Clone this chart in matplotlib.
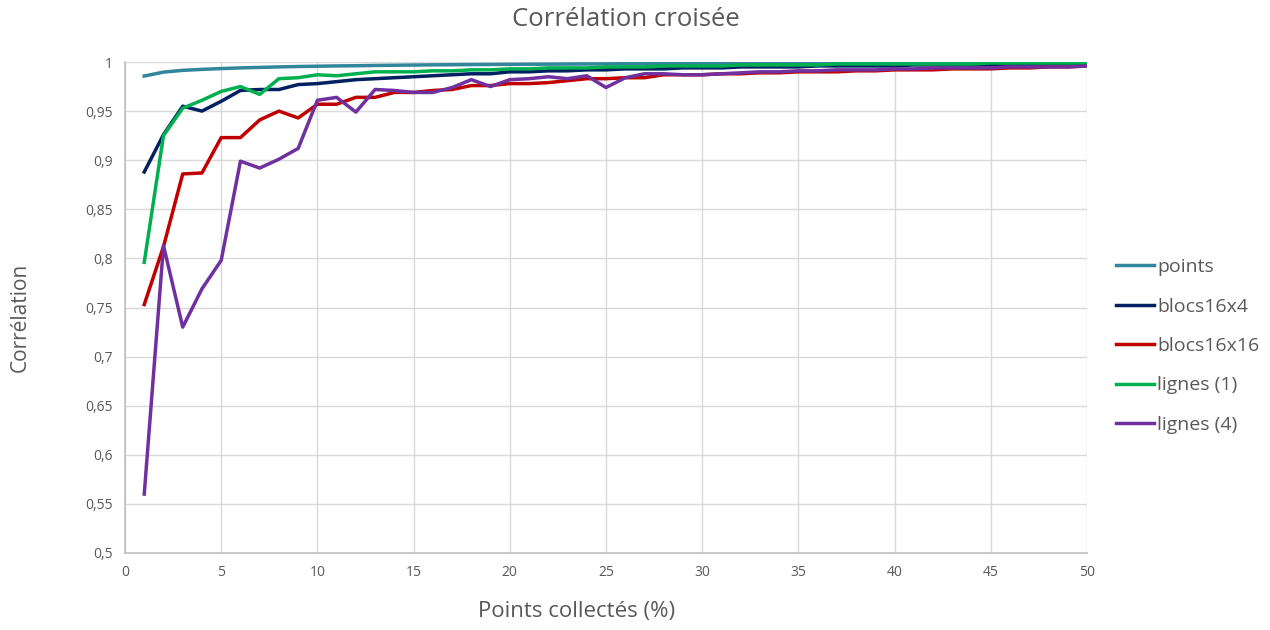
import numpy as np
import matplotlib
matplotlib.use("Agg")
import matplotlib.pyplot as plt
from matplotlib.ticker import FuncFormatter, MultipleLocator

plt.rcParams['font.family'] = ['Open Sans', 'DejaVu Sans']

pct = list(range(1, 51))

points = [0.9857, 0.9897, 0.9915, 0.9925, 0.9933, 0.9940, 0.9945, 0.9950, 0.9954, 0.9957,
          0.9960, 0.9962, 0.9965, 0.9967, 0.9969, 0.9971, 0.9972, 0.9974, 0.9975, 0.9976,
          0.9977, 0.9978, 0.9979, 0.9980, 0.9981, 0.9982, 0.9982, 0.9983, 0.9984, 0.9984,
          0.9985, 0.9985, 0.9986, 0.9986, 0.9987, 0.9987, 0.9987, 0.9988, 0.9988, 0.9988,
          0.9989, 0.9989, 0.9989, 0.9990, 0.9990, 0.9990, 0.9990, 0.9991, 0.9991, 0.9991]

blocs16x4 = [0.888, 0.926, 0.955, 0.950, 0.960, 0.971, 0.972, 0.972, 0.977, 0.978,
             0.980, 0.982, 0.983, 0.984, 0.985, 0.986, 0.987, 0.988, 0.988, 0.990,
             0.990, 0.991, 0.991, 0.992, 0.992, 0.993, 0.993, 0.993, 0.994, 0.994,
             0.994, 0.995, 0.995, 0.995, 0.995, 0.996, 0.996, 0.996, 0.996, 0.996,
             0.997, 0.997, 0.997, 0.997, 0.997, 0.997, 0.997, 0.998, 0.998, 0.998]

blocs16x16 = [0.753, 0.812, 0.886, 0.887, 0.923, 0.923, 0.941, 0.950, 0.943, 0.957,
              0.957, 0.964, 0.964, 0.969, 0.969, 0.971, 0.972, 0.976, 0.976, 0.978,
              0.978, 0.979, 0.981, 0.983, 0.983, 0.984, 0.984, 0.987, 0.987, 0.987,
              0.988, 0.988, 0.989, 0.989, 0.990, 0.990, 0.990, 0.991, 0.991, 0.992,
              0.992, 0.992, 0.993, 0.993, 0.993, 0.994, 0.994, 0.995, 0.995, 0.996]

lignes1 = [0.796, 0.925, 0.953, 0.961, 0.970, 0.975, 0.967, 0.983, 0.984, 0.987,
           0.986, 0.988, 0.990, 0.990, 0.990, 0.991, 0.991, 0.992, 0.992, 0.993,
           0.993, 0.994, 0.994, 0.994, 0.995, 0.995, 0.995, 0.996, 0.996, 0.996,
           0.996, 0.997, 0.997, 0.997, 0.997, 0.997, 0.998, 0.998, 0.998, 0.998,
           0.998, 0.998, 0.998, 0.998, 0.999, 0.999, 0.999, 0.999, 0.999, 0.999]

lignes4 = [0.560, 0.813, 0.730, 0.769, 0.798, 0.899, 0.892, 0.901, 0.912, 0.961,
           0.964, 0.949, 0.972, 0.971, 0.969, 0.969, 0.974, 0.982, 0.975, 0.982,
           0.983, 0.985, 0.983, 0.986, 0.974, 0.984, 0.988, 0.988, 0.987, 0.987,
           0.988, 0.989, 0.990, 0.990, 0.991, 0.991, 0.992, 0.992, 0.992, 0.993,
           0.993, 0.994, 0.994, 0.994, 0.994, 0.995, 0.995, 0.995, 0.995, 0.996]

series = [
    ("points", points, "#31859C"),
    ("blocs16x4", blocs16x4, "#002060"),
    ("blocs16x16", blocs16x16, "#C00000"),
    ("lignes (1)", lignes1, "#00B050"),
    ("lignes (4)", lignes4, "#7030A0"),
]

grey_txt = "#595959"

fig = plt.figure(figsize=(12.7, 6.3), dpi=100)
ax = fig.add_axes([125 / 1270, 1 - 553 / 630, (1087 - 125) / 1270, (553 - 62) / 630])

for name, vals, col in series:
    ax.plot(pct, vals, color=col, lw=2.5, label=name, solid_joinstyle="round")

ax.set_xlim(0, 50)
ax.set_ylim(0.5, 1.0)
ax.xaxis.set_major_locator(MultipleLocator(5))
ax.yaxis.set_major_locator(MultipleLocator(0.05))
ax.yaxis.set_major_formatter(FuncFormatter(lambda v, p: f"{round(v, 2):g}".replace(".", ",")))

ax.grid(True, color="#d9d9d9", lw=1)
ax.set_axisbelow(True)
for s in ["top", "right"]:
    ax.spines[s].set_visible(False)
for s in ["left", "bottom"]:
    ax.spines[s].set_color("#bfbfbf")
    ax.spines[s].set_linewidth(1.2)
ax.tick_params(length=0, labelsize=10, colors=grey_txt, pad=9)

fig.text(626 / 1270, 1 - 20 / 630, "Corrélation croisée", fontsize=18.5, color=grey_txt,
         ha="center", va="center")
fig.text(577 / 1270, 1 - 612 / 630, "Points collectés (%)", fontsize=16, color=grey_txt,
         ha="center", va="center")
fig.text(20 / 1270, 1 - 317 / 630, "Corrélation", fontsize=15, color=grey_txt,
         ha="center", va="center", rotation=90)

fig.legend(loc="center left", bbox_to_anchor=(1098 / 1270, 1 - 346 / 630), frameon=False,
           fontsize=14, labelcolor=grey_txt, handlelength=2.0, handletextpad=0.15,
           labelspacing=1.1)

fig.savefig("out.png", dpi=100)
